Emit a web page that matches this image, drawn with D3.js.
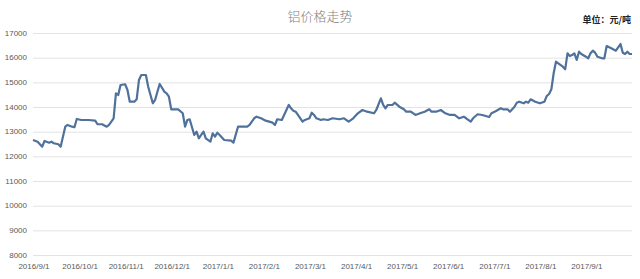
<!DOCTYPE html>
<html>
<head>
<meta charset="utf-8">
<script src="https://cdn.jsdelivr.net/npm/d3@7"></script>
<style>
  body { margin: 0; background: #fff; }
  svg { display: block; }
</style>
</head>
<body>
<div id="chart"></div>
<script>
// 交易日序号（每 20 个交易日一个标签）
const dayIndex = [0, 2, 4, 5, 7, 8, 9, 11, 12, 14, 15, 17, 18, 19, 21, 24, 27, 28, 30, 32,
  33, 35, 36, 37, 38, 40, 41, 42, 44, 45, 46, 47, 49, 50, 52, 53, 54, 55, 57, 58,
  59, 60, 62, 63, 65, 66, 67, 68, 70, 71, 72, 73, 74, 75, 77, 78, 79, 80, 81, 83,
  86, 87, 89, 91, 93, 94, 95, 96, 97, 99, 101, 104, 105, 106, 108, 109, 111, 112, 113, 114,
  115, 117, 118, 120, 121, 122, 123, 125, 126, 128, 130, 133, 135, 137, 139, 141, 143, 145, 148, 149,
  151, 152, 153, 154, 156, 157, 159, 161, 162, 164, 166, 168, 170, 172, 173, 175, 177, 179, 181, 183,
  185, 187, 188, 190, 191, 193, 195, 198, 199, 201, 203, 204, 206, 207, 209, 210, 211, 213, 214, 215,
  216, 218, 220, 222, 223, 224, 225, 226, 227, 228, 230, 231, 232, 233, 234, 235, 236, 237, 238, 240,
  241, 242, 243, 244, 245, 247, 248, 249, 251, 253, 255, 256, 257, 258, 259, 260];

// 铝价（元/吨）
const price = [12663, 12594, 12392, 12623, 12554, 12594, 12530, 12489, 12392, 13202, 13271, 13202, 13178, 13514, 13474, 13474, 13446, 13300, 13300, 13202,
  13271, 13543, 14556, 14487, 14892, 14921, 14690, 14216, 14216, 14313, 15095, 15298, 15298, 14824, 14151, 14285, 14621, 14933, 14621, 14556,
  14418, 13907, 13907, 13907, 13745, 13202, 13474, 13502, 12866, 13000, 12732, 12866, 13000, 12732, 12594, 12935, 12797, 12959, 12866, 12663,
  12635, 12554, 13202, 13202, 13202, 13271, 13405, 13543, 13608, 13543, 13446, 13365, 13271, 13502, 13474, 13677, 14082, 13948, 13851, 13810,
  13677, 13405, 13474, 13543, 13770, 13677, 13543, 13474, 13502, 13474, 13543, 13502, 13543, 13405, 13543, 13745, 13879, 13810, 13745, 13879,
  14353, 14082, 13948, 14082, 14082, 14175, 14013, 13907, 13810, 13810, 13677, 13745, 13810, 13907, 13810, 13810, 13879, 13745, 13677, 13677,
  13543, 13608, 13543, 13405, 13543, 13705, 13677, 13595, 13745, 13839, 13948, 13907, 13907, 13810, 14013, 14175, 14216, 14151, 14216, 14175,
  14313, 14216, 14151, 14216, 14447, 14528, 14718, 15367, 15837, 15772, 15634, 15529, 16177, 16068, 16108, 16177, 15906, 16243, 16149, 16039,
  15975, 16177, 16284, 16202, 16039, 15975, 15975, 16473, 16380, 16284, 16554, 16202, 16149, 16243, 16149, 16149];

const dateLabels = ["2016/9/1", "2016/10/1", "2016/11/1", "2016/12/1", "2017/1/1", "2017/2/1", "2017/3/1",
  "2017/4/1", "2017/5/1", "2017/6/1", "2017/7/1", "2017/8/1", "2017/9/1"];
const yTicks = [8000, 9000, 10000, 11000, 12000, 13000, 14000, 15000, 16000, 17000];
const labelStep = 20;
const lastDay = 260;

const width = 640, height = 279;
const margin = {left: 33, right: 8, top: 33, bottom: 24};

const svg = d3.select("#chart")
  .append("svg")
  .attr("width", width)
  .attr("height", height);

const x = d3.scaleLinear()
  .domain([0, lastDay])
  .range([margin.left, width - margin.right]);

const y = d3.scaleLinear()
  .domain([8000, 17000])
  .range([height - margin.bottom, margin.top]);

// 标题
svg.append("text")
  .attr("x", 320)
  .attr("y", 21)
  .attr("text-anchor", "middle")
  .style("font-family", "'Noto Sans CJK SC', sans-serif")
  .style("font-size", "13px")
  .style("font-weight", 300)
  .style("fill", "#7f7f7f")
  .text("铝价格走势");

svg.append("text")
  .attr("x", 631)
  .attr("y", 23)
  .attr("text-anchor", "end")
  .style("font-family", "'Noto Sans CJK SC', sans-serif")
  .style("font-size", "9px")
  .style("font-weight", 700)
  .style("fill", "#222")
  .text("单位：元/吨");

// 网格线
svg.append("g")
  .selectAll("line")
  .data(yTicks)
  .join("line")
  .attr("x1", margin.left)
  .attr("x2", width - margin.right)
  .attr("y1", d => y(d) + 0.5)
  .attr("y2", d => y(d) + 0.5)
  .style("stroke", "#e3e3e3")
  .style("stroke-width", 1);

// Y 轴标签
svg.append("g")
  .selectAll("text")
  .data(yTicks)
  .join("text")
  .attr("x", 27)
  .attr("y", d => y(d))
  .attr("dy", "0.35em")
  .attr("text-anchor", "end")
  .style("font-family", "'Liberation Sans', sans-serif")
  .style("font-size", "8px")
  .style("fill", "#595959")
  .text(d => d);

// X 轴标签
svg.append("g")
  .selectAll("text")
  .data(dateLabels)
  .join("text")
  .attr("x", (d, i) => x(i * labelStep) + 1)
  .attr("y", 269)
  .attr("text-anchor", "middle")
  .style("font-family", "'Liberation Sans', sans-serif")
  .style("font-size", "8px")
  .style("fill", "#595959")
  .text(d => d);

// 价格折线
const points = dayIndex.map((d, i) => ({day: d, value: price[i]}));

const line = d3.line()
  .x(d => x(d.day))
  .y(d => y(d.value));

svg.append("path")
  .datum(points)
  .attr("d", line)
  .style("fill", "none")
  .style("stroke", "#4f719b")
  .style("stroke-width", 2.2)
  .style("stroke-linejoin", "round");
</script>
</body>
</html>
